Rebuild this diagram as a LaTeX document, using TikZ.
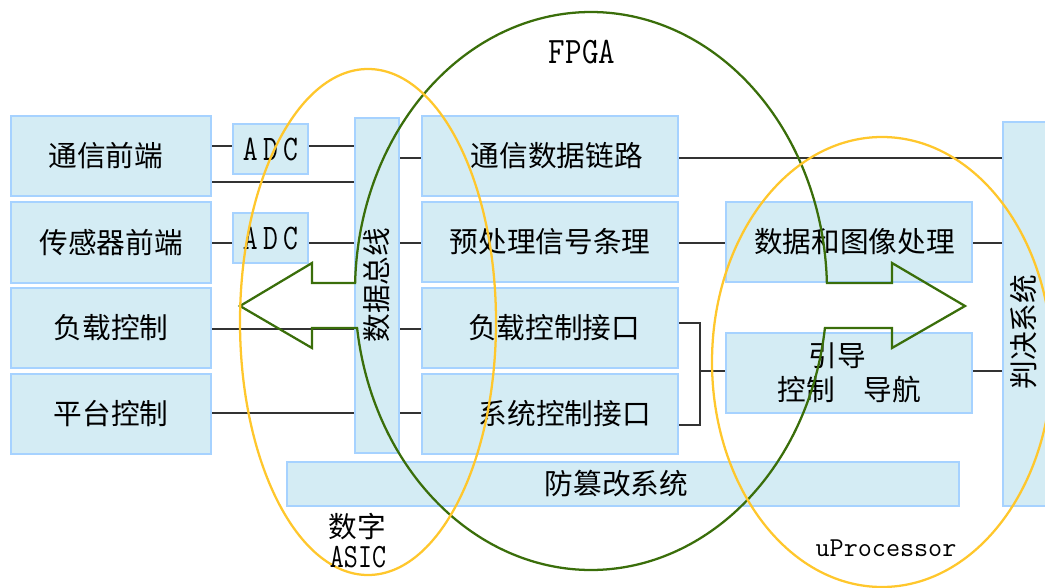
\documentclass[tikz,border=0pt]{standalone}
\usepackage{fontspec}
\newfontfamily\cjk{Noto Sans CJK SC}
\usetikzlibrary{backgrounds}
\definecolor{boxfill}{HTML}{D4ECF4}
\definecolor{boxline}{HTML}{A6D2FF}
\definecolor{fgreen}{HTML}{3A6E0A}
\definecolor{ayellow}{HTML}{FFC72C}
\definecolor{wire}{HTML}{333333}
\begin{document}
\begin{tikzpicture}[x=0.75pt,y=-0.75pt,
  box/.style={draw=boxline, fill=boxfill, line width=2.2pt, inner sep=0pt},
  zh/.style={font=\cjk\fontsize{21.5pt}{26pt}\selectfont, text=black},
  wireline/.style={draw=wire, line width=1.8pt},
  greenline/.style={draw=fgreen, line width=1.7pt, line join=miter},
  yel/.style={draw=ayellow, line width=1.7pt}]
\useasboundingbox (0,0) rectangle (1045,588);

% left column
\node[box,zh,minimum width=150pt,minimum height=60pt] (tx) at (111,156) {\hspace{-8pt}通信前端};
\node[box,zh,minimum width=150pt,minimum height=60.75pt] (cg) at (111,242.5) {传感器前端};
\node[box,zh,minimum width=150pt,minimum height=60pt] (fz) at (111,328) {负载控制};
\node[box,zh,minimum width=150pt,minimum height=60pt] (pt) at (111,414) {平台控制};
% ADCs
\node[box,minimum width=56.25pt,minimum height=37.5pt,font=\ttfamily\fontsize{27pt}{30pt}\selectfont] (adc1) at (270.5,149) {\scalebox{0.8}[1]{A\hspace{5pt}D\hspace{5pt}C}};
\node[box,minimum width=56.25pt,minimum height=37.5pt,font=\ttfamily\fontsize{27pt}{30pt}\selectfont] (adc2) at (270.5,238) {\scalebox{0.8}[1]{A\hspace{5pt}D\hspace{5pt}C}};
% bus
\node[box,minimum width=33pt,minimum height=251.25pt] (bus) at (377,285.5) {};
\node[zh,rotate=90] (bustxt) at (377,285) {数据总线};
% middle column
\node[box,zh,minimum width=192pt,minimum height=60pt] (lk) at (550,156) {\hspace{10pt}通信数据链路};
\node[box,zh,minimum width=192pt,minimum height=60pt] (yc) at (550,242) {预处理信号条理};
\node[box,zh,minimum width=192pt,minimum height=60pt] (fk) at (550,328) {\hspace{6pt}负载控制接口};
\node[box,zh,minimum width=192pt,minimum height=60pt] (xk) at (550,414) {\hspace{22pt}系统控制接口};
% right column
\node[box,zh,minimum width=184.5pt,minimum height=60pt] (sj) at (849,242) {\hspace{8pt}数据和图像处理};
\node[box,zh,minimum width=184.5pt,minimum height=60pt,align=center] (yd) at (849,373) {引导\hspace*{18pt}\\控制\quad 导航};
% bottom bar
\node[box,zh,minimum width=504pt,minimum height=33pt] (ff) at (623,484) {\hspace{-10pt}防篡改系统};
% judge bar
\node[box,minimum width=39pt,minimum height=288pt] (pj) at (1029,314) {};
\node[zh,rotate=90] (pjtxt) at (1024,332) {判决系统};

% wires
\begin{scope}[on background layer]
\draw[wireline] (tx.east |- 0,146) -- (adc1.west |- 0,146);
\draw[wireline] (adc1.east |- 0,146) -- (bus.west |- 0,146);
\draw[wireline] (tx.east |- 0,182) -- (bus.west |- 0,182);
\draw[wireline] (cg.east |- 0,243) -- (adc2.west |- 0,243);
\draw[wireline] (adc2.east |- 0,243) -- (bus.west |- 0,243);
\draw[wireline] (fz.east |- 0,329) -- (bus.west |- 0,329);
\draw[wireline] (pt.east |- 0,413) -- (bus.west |- 0,413);
\draw[wireline] (bus.east |- 0,158) -- (lk.west |- 0,158);
\draw[wireline] (bus.east |- 0,243) -- (yc.west |- 0,243);
\draw[wireline] (bus.east |- 0,329) -- (fk.west |- 0,329);
\draw[wireline] (bus.east |- 0,413) -- (xk.west |- 0,413);
\draw[wireline] (lk.east |- 0,158) -- (pj.west |- 0,158);
\draw[wireline] (yc.east |- 0,243) -- (sj.west |- 0,243);
\draw[wireline] (sj.east |- 0,243) -- (pj.west |- 0,243);
\draw[wireline] (yd.east |- 0,371) -- (pj.west |- 0,371);
\coordinate (br) at (700,371);
\draw[wireline] (fk.east |- 0,323) -| (br) |- (xk.east |- 0,425);
\draw[wireline] (br) -- (yd.west |- 0,371);
\end{scope}

% FPGA outline with arrows
\draw[greenline] plot[domain=181.64:358.36, samples=150] ({591+236*cos(\x)},{291+279*sin(\x)})
  -- (892,283) -- (892,263) -- (965,306) -- (892,348) -- (892,328)
  -- plot[domain=7.62:172.38, samples=150] ({591+236*cos(\x)},{291+279*sin(\x)})
  -- (312,328) -- (312,348) -- (240,306) -- (312,263) -- (312,283) -- cycle;

% ASIC and uProcessor ellipses
\draw[yel] (368,322) ellipse [x radius=96pt, y radius=189.75pt];
\draw[yel] (882,362) ellipse [x radius=127.5pt, y radius=168.75pt];

% labels
\node[font=\ttfamily\fontsize{28pt}{32pt}\selectfont] (fpga) at (582,52) {\scalebox{0.86}[1]{FPGA}};
\node[zh] (sz) at (357,527) {数字};
\node[font=\ttfamily\fontsize{25.5pt}{30pt}\selectfont] (asic) at (358,557) {\scalebox{0.8}[1]{ASIC}};
\node[font=\ttfamily\fontsize{20.5pt}{24pt}\selectfont] (up) at (886,548) {uProcessor};
\end{tikzpicture}
\end{document}
